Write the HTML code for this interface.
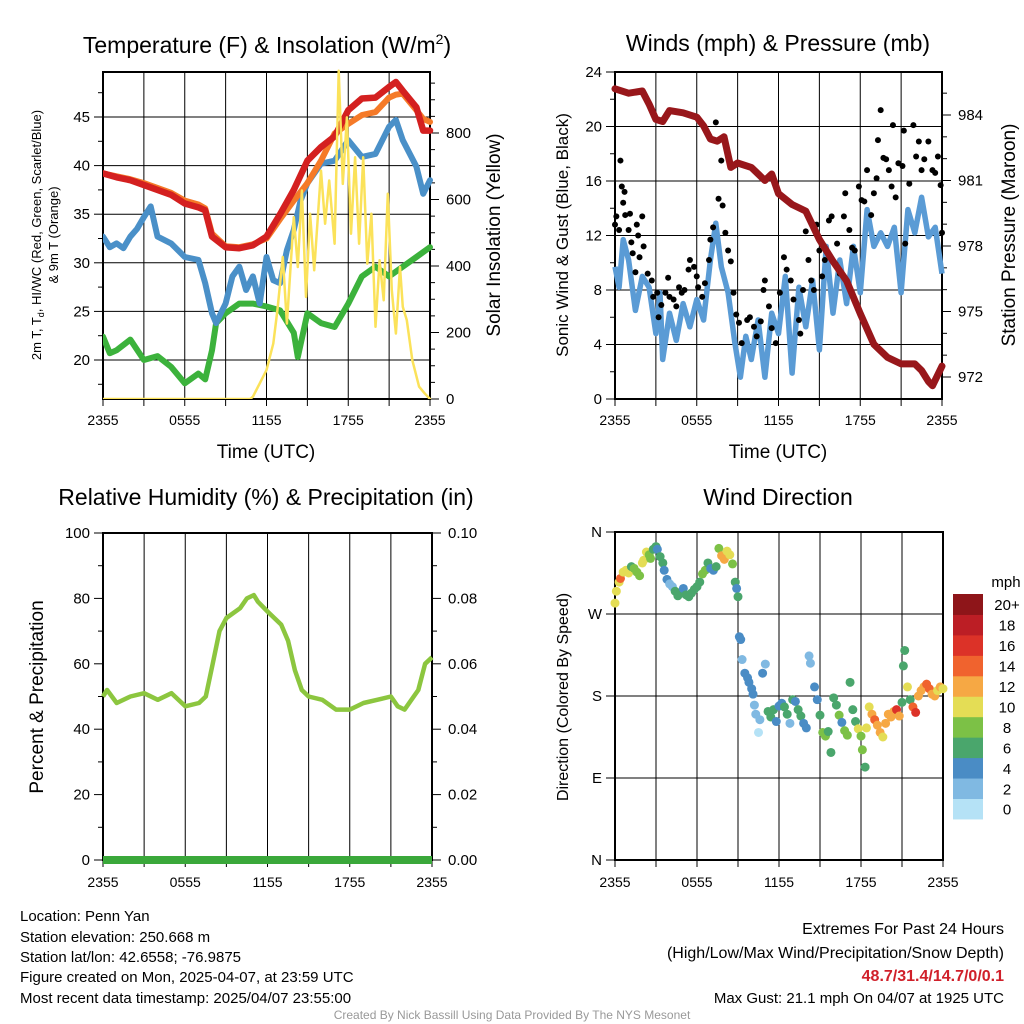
<!DOCTYPE html>
<html><head><meta charset="utf-8">
<style>
html,body{margin:0;padding:0;background:#fff;}
svg{display:block;font-family:"Liberation Sans",Arial,sans-serif;}
</style></head>
<body>
<svg id="chart" width="1024" height="1024" viewBox="0 0 1024 1024" xmlns="http://www.w3.org/2000/svg">
<g id="texts" fill="#000">
<text x="267" y="53" font-size="23" text-anchor="middle">Temperature (F) &amp; Insolation (W/m<tspan font-size="14" dy="-9">2</tspan><tspan dy="9">)</tspan></text>
<text x="778" y="51" font-size="23" text-anchor="middle">Winds (mph) &amp; Pressure (mb)</text>
<text x="266" y="505" font-size="23" text-anchor="middle">Relative Humidity (%) &amp; Precipitation (in)</text>
<text x="778" y="505" font-size="23" text-anchor="middle">Wind Direction</text>
<text x="266" y="458" font-size="19" text-anchor="middle">Time (UTC)</text>
<text x="778" y="458" font-size="19" text-anchor="middle">Time (UTC)</text>
<text transform="translate(41,235) rotate(-90)" font-size="13" text-anchor="middle">2m T, T<tspan font-size="9" dy="3">d</tspan><tspan dy="-3">, HI/WC (Red, Green, Scarlet/Blue)</tspan></text>
<text transform="translate(58,235) rotate(-90)" font-size="13" text-anchor="middle">&amp; 9m T (Orange)</text>
<text transform="translate(500,235) rotate(-90)" font-size="19" text-anchor="middle">Solar Insolation (Yellow)</text>
<text transform="translate(568,235) rotate(-90)" font-size="17" text-anchor="middle">Sonic Wind &amp; Gust (Blue, Black)</text>
<text transform="translate(1015,235) rotate(-90)" font-size="19" text-anchor="middle">Station Pressure (Maroon)</text>
<text transform="translate(43,697) rotate(-90)" font-size="19" text-anchor="middle">Percent &amp; Precipitation</text>
<text transform="translate(568,697) rotate(-90)" font-size="16" text-anchor="middle">Direction (Colored By Speed)</text>
<g font-size="15">
<text x="20" y="921">Location: Penn Yan</text>
<text x="20" y="942">Station elevation: 250.668 m</text>
<text x="20" y="962">Station lat/lon: 42.6558; -76.9875</text>
<text x="20" y="982">Figure created on Mon, 2025-04-07, at 23:59 UTC</text>
<text x="20" y="1003">Most recent data timestamp: 2025/04/07 23:55:00</text>
</g>
<g font-size="16" text-anchor="end">
<text x="1004" y="934">Extremes For Past 24 Hours</text>
<text x="1004" y="958">(High/Low/Max Wind/Precipitation/Snow Depth)</text>
<text x="1004" y="981" fill="#d0202a" font-weight="bold">48.7/31.4/14.7/0/0.1</text>
<text x="1004" y="1003" font-size="15">Max Gust: 21.1 mph On 04/07 at 1925 UTC</text>
</g>
<text x="512" y="1019" font-size="12" fill="#999" text-anchor="middle">Created By Nick Bassill Using Data Provided By The NYS Mesonet</text>
</g>
</svg>
<script>
// ---------- data ----------
const tempT = [0,1,2,3,4,5,6,7,7.5,8,9,10,11,12,13,14,15,16,17,18,19,20,21,21.5,22,23,23.5,24];
const tempRed = [39.2,38.8,38.5,38,37.5,37,36.1,35.7,35.4,32.7,31.6,31.5,31.8,32.7,35,37.5,40.5,41.9,43,45.7,46.9,47,48.1,48.6,47.7,46,43.6,43.6];
const tempOrange = [39.2,38.9,38.6,38.2,37.7,37.2,36.4,36,35.6,33,31.7,31.6,31.9,32.5,34.5,36.4,38.2,40.5,43.3,44.3,45.2,45.5,47,47.3,47.4,45.7,44.8,44.5];
const dewT = [0,0.5,1,1.5,2,2.5,3,3.5,4,5,6,7,7.5,8,8.3,9,9.5,10,10.5,11,11.5,12,12.5,13,13.5,14,14.5,15,16,17,18,19,20,21,21.5,22,23,23.5,24];
const dewBlue = [32.7,31.6,32,31.5,32.7,33.5,34.7,35.8,32.7,32,30.6,30.3,27.9,24.8,23.8,25.8,28.6,29.6,27.2,28.6,25.8,30.6,28.2,27.9,31.3,33.4,36.4,38.2,40.2,40.5,42.6,40.9,41.2,44,44.7,42.6,39.9,37.1,38.5];
const hiT = [0,0.5,1,2,3,4,5,6,7,7.5,8,8.3,9,10,11,12,13,14,14.3,15,16,17,18,19,20,21,22,23,24];
const hiGreen = [22.4,20.7,21,22.1,20,20.4,19.3,17.6,18.6,18,21,23.8,24.8,25.8,25.8,25.5,25.1,22.8,20.3,24.8,23.8,23.4,25.8,28.6,29.6,28.6,29.6,30.6,31.6];
const solT = [0,10.8,11,11.5,12,12.5,12.8,13.2,13.5,14,14.3,14.6,14.9,15.2,15.5,16,16.3,16.6,17,17.3,17.6,17.9,18.2,18.5,18.8,19.1,19.4,19.7,20,20.3,20.6,20.9,21.2,21.5,21.8,22,22.3,22.7,23.2,23.6,24];
const solW = [0,0,7,47,87,167,267,427,227,547,397,627,307,557,387,687,527,657,467,987,647,847,497,727,467,727,407,557,217,417,297,617,327,197,397,277,237,117,37,17,0];
const windT = [0,0.3,0.6,1,1.5,2,2.5,3,3.3,3.5,4,4.5,5,5.5,6,6.5,7,7.4,7.8,8.3,8.8,9.2,9.6,10,10.5,11,11.5,12,12.5,13,13.5,14,14.5,15,15.5,16,16.5,17,17.5,18,18.5,19,19.5,20,20.5,21,21.5,22,22.5,23,23.5,24];
const windSpd = [9.7,8.2,11.7,10.2,6.5,9,8.2,4.8,7.8,2.9,6.3,4.3,7,5.3,7.3,5.8,10.2,12.9,9.7,7.8,4.1,1.6,4.6,2.9,5.8,1.6,6.3,4.8,9,1.9,8.2,5.3,8.7,3.6,11.2,6.3,10.2,7,11.2,7.8,13.9,11.2,12.2,11.2,12.6,7.8,13.9,12.2,14.8,11.9,12.6,9.2];
const gustT = [0,0.1,0.3,0.4,0.5,0.6,0.7,0.75,1,1.1,1.2,1.3,1.5,1.6,1.7,1.8,2,2.1,2.4,2.7,2.8,3.1,3.2,3.4,3.7,3.9,4,4.3,4.5,4.7,4.9,5.1,5.4,5.5,5.8,6,6.1,6.4,6.6,6.9,7,7.2,7.4,7.6,7.8,7.9,8.1,8.3,8.5,8.7,8.9,9.1,9.3,9.7,9.9,10.2,10.4,10.7,10.9,11,11.3,11.5,11.8,12.1,12.4,12.6,12.9,13.1,13.5,13.6,13.8,14,14.2,14.4,14.6,14.8,15,15.2,15.4,15.7,15.9,16.2,16.3,16.5,16.8,16.9,17.2,17.4,17.6,17.9,18.1,18.3,18.5,18.8,19,19.2,19.3,19.5,19.7,19.9,20.1,20.3,20.4,20.6,20.8,21.1,21.2,21.3,21.6,21.9,22.1,22.3,22.5,22.7,23,23.3,23.5,23.7,23.9,24];
const gustSpd = [12.8,13.4,12.4,17.5,15.6,14.4,15.2,13.5,12.4,13.6,11.5,10.7,9.3,12.8,12,10.4,13.4,11.2,9.2,8.7,7.5,7.8,6,6.9,7.8,8.9,7.5,7.3,6.8,8.2,7.8,8,9.5,10.2,9.7,9,8.2,7.5,8.5,10.2,11.7,12.6,20.3,14.7,17.5,14.2,12.2,10.9,10.1,7.8,6.2,5.6,4.1,5.8,6,5.3,4.6,5.7,8,8.7,6.8,5.2,4.1,7.8,10.4,9.5,8.7,7.3,5.8,4.8,8,12.3,10.2,8.7,8,12.8,10.9,9,10.2,13.1,13.4,9.9,11.4,9.2,13.4,15.1,12.4,11.1,10.9,15.6,14.6,14.5,16.8,13.5,15.1,16.2,19,21.2,17.7,17.6,16.8,15.6,20.1,14.8,17.3,17.1,19.7,11.4,15.8,20.1,17.8,18.9,16.8,17.6,18.9,16.8,16.6,17.8,15.7,12.2];
const presT = [0,1,2,2.5,3,3.5,4,5,6,6.5,7,7.5,8,8.5,9,10,11,11.5,12,13,14,15,16,17,18,19,20,21,22,22.5,23,23.3,24];
const presMb = [985.2,985,985.1,984.5,983.8,983.7,984.2,984.1,983.9,983.5,982.9,982.8,983,981.6,981.8,981.6,981,981.3,980.4,979.9,979.6,978.3,977.3,976.4,974.9,973.5,972.9,972.6,972.6,972.3,971.8,971.6,972.5];
const rhT = [0,0.3,1,2,3,4,5,6,7,7.5,8,8.5,9,10,10.5,11,11.3,12,13,13.5,14,14.5,15,16,17,18,19,20,21,21.5,22,23,23.5,24];
const rhPct = [50,52,48,50,51,49,51,47,48,50,60,70,74,77,80,81,79,76,72,67,58,52,50,49,46,46,48,49,50,47,46,52,60,62];
const precipT = [0,24];
const precipIn = [0,0];
const dirT = [0,0.1,0.3,0.4,0.6,0.8,1,1.2,1.4,1.6,1.8,2,2.1,2.3,2.5,2.6,2.8,3,3.1,3.3,3.5,3.6,3.8,4,4.2,4.4,4.6,4.8,5,5.2,5.4,5.6,5.8,6,6.2,6.4,6.6,6.8,7,7.2,7.4,7.6,7.8,8,8.2,8.4,8.6,8.8,8.9,9,9.1,9.2,9.3,9.5,9.7,9.8,10,10.1,10.2,10.3,10.5,10.6,10.8,11,11.2,11.4,11.6,11.8,12,12.2,12.4,12.6,12.8,13,13.2,13.4,13.6,13.8,14,14.2,14.3,14.6,14.8,15,15.2,15.4,15.6,15.8,16,16.2,16.4,16.6,16.8,17,17.2,17.4,17.6,17.8,18,18.1,18.3,18.4,18.6,18.8,19,19.2,19.4,19.6,19.8,20,20.2,20.4,20.6,20.8,21,21.1,21.2,21.4,21.6,21.8,22,22.2,22.4,22.6,22.8,23,23.2,23.4,23.6,23.8,24];
const dirDeg = [282,295,305,309,316,318,315,322,320,316,312,326,329,338,335,331,341,344,341,333,326,318,308,303,300,295,290,293,298,291,289,293,297,300,305,314,318,326,320,318,322,342,334,330,339,335,325,305,298,289,245,242,220,205,200,195,188,182,170,160,140,154,205,215,163,157,165,152,169,172,168,160,150,176,174,165,158,150,145,224,216,190,176,159,140,136,141,118,178,170,159,151,142,137,195,165,152,144,136,121,102,145,168,160,154,148,140,135,150,160,157,163,165,158,173,213,230,190,176,168,162,180,186,190,193,188,182,180,186,190,188];
const dirSpd = [10,10,10,14,10,10,10,6,8,8,8,10,10,10,8,8,6,6,4,6,6,4,4,2,2,6,6,6,4,6,6,6,6,6,6,8,8,6,4,4,6,8,12,12,10,10,8,6,4,6,4,4,2,4,4,4,4,4,2,2,0,2,4,2,6,6,6,4,4,4,6,6,2,6,4,6,6,4,4,2,2,4,4,6,8,8,6,6,6,6,8,4,8,8,6,6,6,10,8,8,6,10,10,12,14,12,12,10,12,12,12,12,16,12,6,6,6,10,6,14,16,12,12,12,14,14,12,12,10,12,10];
const speedBins = [0,2,4,6,8,10,12,14,16,18,20];
const speedLabels = ["0","2","4","6","8","10","12","14","16","18","20+"];
const speedColors = ["#b5e2f6","#80b9e2","#4a8cc5","#4aa66c","#7cc146","#e4dd55","#f6a844","#f0632e","#dc3228","#bc1e25","#8e1519"];

// ---------- helpers ----------
const NS = "http://www.w3.org/2000/svg";
const svg = document.getElementById("chart");
function mk(tag, attrs, parent){ const e=document.createElementNS(NS,tag); for(const k in attrs) e.setAttribute(k,attrs[k]); (parent||svg).appendChild(e); return e; }
function lin(d0,d1,r0,r1){ return v => r0 + (v-d0)/(d1-d0)*(r1-r0); }
function pathD(xs,ys,fx,fy){ return xs.map((t,i)=>(i?"L":"M")+fx(t).toFixed(1)+","+fy(ys[i]).toFixed(1)).join(""); }
function timeLabels(g, fx, y){
  const labs=["2355","0555","1155","1755","2355"];
  labs.forEach((s,i)=>{ const t=mk("text",{x:fx(i*6),y:y,"font-size":14,"text-anchor":"middle"},g); t.textContent=s;
    
     });
}
function frame(g, x0,x1,y0,y1, fx, hLines){
  for(let h=0;h<=24;h+=3){ const l=mk("line",{x1:fx(h),x2:fx(h),y1:y0,y2:y1,stroke:"#000","stroke-width":1},g);
    
    
    mk("line",{x1:fx(h),x2:fx(h),y1:y1,y2:y1+7,stroke:"#000","stroke-width":1},g); }
  hLines.forEach(y=>{ const l=mk("line",{x1:x0,x2:x1,y1:y,y2:y,stroke:"#000","stroke-width":1},g);
    
     });
  const r=mk("rect",{x:x0,y:y0,width:x1-x0,height:y1-y0,fill:"none",stroke:"#000","stroke-width":2},g);
  
  
}
function yTicks(g, vals, fy, x, side, labels, minorVals){
  vals.forEach((v,i)=>{ const y=fy(v); const dx=side<0?-9:9;
    mk("line",{x1:x,x2:x+dx,y1:y,y2:y,stroke:"#000","stroke-width":1},g);
    const t=mk("text",{x:x+(side<0?-13:16),y:y+5,"font-size":15,"text-anchor":side<0?"end":"start"},g);
    t.textContent=labels[i];
    
     });
  (minorVals||[]).forEach(v=>{ const y=fy(v); mk("line",{x1:x,x2:x+(side<0?-5:5),y1:y,y2:y,stroke:"#000","stroke-width":1},g); });
}
function range(a,b,s){ const r=[]; for(let v=a; v<=b+1e-9; v+=s) r.push(+v.toFixed(4)); return r; }

// ---------- Panel 1: temperature ----------
{
  const g=mk("g",{});  
  const x0=103,x1=430,y0=72,y1=399;
  const fx=lin(0,24,x0,x1), fy=lin(20,45,360,117), fs=lin(0,800,399,133);
  frame(g,x0,x1,y0,y1,fx,[20,25,30,35,40,45].map(fy));
  yTicks(g,[20,25,30,35,40,45],fy,x0,-1,["20","25","30","35","40","45"],range(17.5,47.5,5));
  yTicks(g,[0,200,400,600,800],fs,x1,1,["0","200","400","600","800"],range(100,900,100).concat([50,150,250,350,450,550,650,750,850,950]));
  timeLabels(g,fx,425);
  const cp=mk("clipPath",{id:"c1"},g); mk("rect",{x:x0,y:y0-14,width:x1-x0+4,height:y1-y0+14},cp);
  const s=mk("g",{"clip-path":"url(#c1)"},g);
  const lines=[[hiT,hiGreen,"#3cb23c","heat-index-line",fy,6],[dewT,dewBlue,"#4a90c8","dewpoint-line",fy,6],[tempT,tempOrange,"#f57a28","temp-9m-line",fy,6],[tempT,tempRed,"#d42020","temp-2m-line",fy,6.5],[solT,solW,"#fbe25a","solar-line",fs,2.5]];
  lines.forEach(L=>{ const p=mk("path",{d:pathD(L[0],L[1],fx,L[4]),fill:"none",stroke:L[2],"stroke-width":L[5],"stroke-linejoin":"round","stroke-linecap":"round"},s);
    
     });
}
// ---------- Panel 2: winds ----------
{
  const g=mk("g",{});  
  const x0=615,x1=942,y0=72,y1=399;
  const fx=lin(0,24,x0,x1), fy=lin(0,24,399,72), fp=lin(972,984,377,115);
  frame(g,x0,x1,y0,y1,fx,[0,4,8,12,16,20,24].map(fy));
  yTicks(g,[0,4,8,12,16,20,24],fy,x0,-1,["0","4","8","12","16","20","24"],range(2,22,4));
  yTicks(g,[972,975,978,981,984],fp,x1,1,["972","975","978","981","984"],range(973,985,1));
  timeLabels(g,fx,425);
  const cp=mk("clipPath",{id:"c2"},g); mk("rect",{x:x0-4,y:y0-4,width:x1-x0+10,height:y1-y0+6},cp);
  const s=mk("g",{"clip-path":"url(#c2)"},g);
  const w=mk("path",{d:pathD(windT,windSpd,fx,fy),fill:"none",stroke:"#5a9bd5","stroke-width":5.5,"stroke-linejoin":"round"},s);
  
  
  gustT.forEach((t,i)=>{ const c=mk("circle",{cx:fx(t),cy:fy(gustSpd[i]),r:3,fill:"#000"},s);
    
     });
  const p=mk("path",{d:pathD(presT,presMb,fx,fp),fill:"none",stroke:"#98171b","stroke-width":7,"stroke-linejoin":"round","stroke-linecap":"round"},s);
  
  
}
// ---------- Panel 3: RH ----------
{
  const g=mk("g",{});  
  const x0=103,x1=432,y0=533,y1=860;
  const fx=lin(0,24,x0,x1), fy=lin(0,100,860,533), fpr=lin(0,0.1,860,533);
  frame(g,x0,x1,y0,y1,fx,[]);
  yTicks(g,[0,20,40,60,80,100],fy,x0,-1,["0","20","40","60","80","100"],range(10,90,20));
  yTicks(g,[0,0.02,0.04,0.06,0.08,0.1],fpr,x1,1,["0.00","0.02","0.04","0.06","0.08","0.10"],[0.01,0.03,0.05,0.07,0.09]);
  timeLabels(g,fx,887);
  const r=mk("path",{d:pathD(rhT,rhPct,fx,fy),fill:"none",stroke:"#8cc63f","stroke-width":4.5,"stroke-linejoin":"round"},g);
  
  
  const pr=mk("path",{d:pathD(precipT,precipIn,fx,fpr),fill:"none",stroke:"#3aa83a","stroke-width":8},g);
  
  
}
// ---------- Panel 4: direction ----------
{
  const g=mk("g",{});  
  const x0=615,x1=943,y0=532,y1=860;
  const fx=lin(0,24,x0,x1), fy=lin(0,360,860,532);
  frame(g,x0,x1,y0,y1,fx,[0,90,180,270,360].map(fy));
  yTicks(g,[0,90,180,270,360],fy,x0,-1,["N","E","S","W","N"],[]);
  timeLabels(g,fx,887);
  function col(s){ let k=0; speedBins.forEach((b,i)=>{ if(s>=b) k=i; }); return speedColors[k]; }
  dirT.forEach((t,i)=>{ const c=mk("circle",{cx:fx(t),cy:fy(dirDeg[i]),r:4.5,fill:col(dirSpd[i])},g);
    
     });
  const lg=mk("g",{},g);  
  const t0=mk("text",{x:1006,y:587,"font-size":15,"text-anchor":"middle"},lg); t0.textContent="mph";
  
  
  const cb0=594, ch=20.45;
  speedColors.forEach((c,i)=>{ const y=cb0+(speedColors.length-1-i)*ch;
    const r=mk("rect",{x:953,y:y,width:30,height:ch+0.5,fill:c},lg);
    
    
    const t=mk("text",{x:1007,y:y+ch/2+6,"font-size":15,"text-anchor":"middle"},lg); t.textContent=speedLabels[i];
    
     });
}
</script>
</body></html>
